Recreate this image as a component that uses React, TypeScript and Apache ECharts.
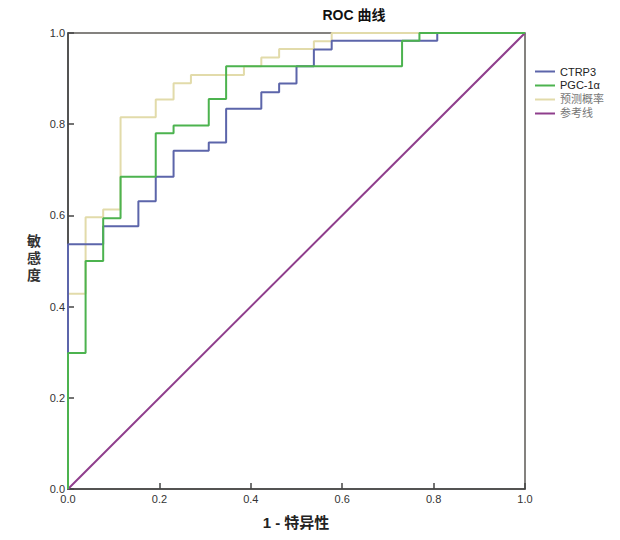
import React, { useEffect, useRef } from "react";
import * as echarts from "echarts";

// Step points of each ROC curve: x where the curve jumps, and the level after the jump
const ctrp3X = [0, 0.077, 0.154, 0.192, 0.231, 0.308, 0.346, 0.423, 0.462, 0.5, 0.538, 0.577, 0.808, 1];
const ctrp3Y = [0.537, 0.576, 0.631, 0.685, 0.742, 0.76, 0.834, 0.87, 0.889, 0.927, 0.964, 0.983, 1.0, 1.0];

const pgcX = [0, 0.0385, 0.077, 0.115, 0.192, 0.231, 0.308, 0.346, 0.731, 0.769, 1];
const pgcY = [0.298, 0.5, 0.594, 0.685, 0.78, 0.797, 0.855, 0.927, 0.983, 1.0, 1.0];

const probX = [0, 0.0385, 0.077, 0.115, 0.192, 0.231, 0.269, 0.385, 0.423, 0.462, 0.538, 0.577, 1];
const probY = [0.428, 0.596, 0.613, 0.815, 0.854, 0.89, 0.908, 0.927, 0.946, 0.965, 0.982, 1.0, 1.0];

const refX = [0, 1];
const refY = [0, 1];

const seriesNames = ["CTRP3", "PGC-1α", "预测概率", "参考线"];
const seriesColors = ["#5c65aa", "#4cb34f", "#e2dbaa", "#8f3e8c"];

const FONT = "'Liberation Sans', 'Noto Sans CJK SC', sans-serif";

function stepPoints(xs: number[], ys: number[]): number[][] {
  const pts: number[][] = [[0, 0]];
  let prev = 0;
  xs.forEach((x, i) => {
    pts.push([x, prev]);
    pts.push([x, ys[i]]);
    prev = ys[i];
  });
  return pts;
}

export default function App() {
  const ref = useRef<HTMLDivElement>(null);
  useEffect(() => {
    document.body.style.margin = "0";
    const chart = echarts.init(ref.current!, null, { renderer: "svg" });
    const lineSeries = (name: string, data: number[][], color: string, z: number) => ({
      name,
      type: "line",
      data,
      symbol: "none",
      showSymbol: false,
      z,
      lineStyle: { color, width: 2 },
      itemStyle: { color },
    });
    chart.setOption({
      animation: false,
      backgroundColor: "#ffffff",
      textStyle: { fontFamily: FONT },
      grid: {
        left: 68,
        right: 95,
        top: 33,
        bottom: 51,
        show: true,
        borderColor: "#5c5a55",
        borderWidth: 1.5,
        backgroundColor: "#ffffff",
      },
      xAxis: {
        type: "value",
        min: 0,
        max: 1,
        interval: 0.2,
        axisLine: { show: true, lineStyle: { color: "#444", width: 1.5 } },
        axisTick: { show: true, inside: true, length: 6, lineStyle: { color: "#444", width: 1.5 } },
        axisLabel: { formatter: (v: number) => v.toFixed(1), fontSize: 11, color: "#333", margin: 4, fontFamily: FONT },
        splitLine: { show: false },
      },
      yAxis: {
        type: "value",
        min: 0,
        max: 1,
        interval: 0.2,
        axisLine: { show: true, lineStyle: { color: "#444", width: 1.5 } },
        axisTick: { show: true, inside: true, length: 6, lineStyle: { color: "#444", width: 1.5 } },
        axisLabel: { formatter: (v: number) => v.toFixed(1), fontSize: 11, color: "#333", margin: 3, fontFamily: FONT },
        splitLine: { show: false },
      },
      legend: {
        orient: "vertical",
        left: 530,
        top: 61,
        itemWidth: 20,
        itemHeight: 2,
        itemGap: 3,
        icon: "rect",
        textStyle: { fontSize: 11, fontFamily: FONT },
        data: seriesNames.map((n, i) => ({
          name: n,
          textStyle: { color: i < 2 ? "#222" : "#777" },
        })),
      },
      graphic: [
        {
          type: "text",
          x: 354,
          y: 15,
          style: {
            text: "ROC 曲线",
            font: `bold 14px ${FONT}`,
            fill: "#111",
            textAlign: "center",
            textVerticalAlign: "middle",
          },
        },
        {
          type: "text",
          x: 296,
          y: 522,
          style: {
            text: "1 - 特异性",
            font: `bold 15px ${FONT}`,
            fill: "#222",
            textAlign: "center",
            textVerticalAlign: "middle",
          },
        },
        {
          type: "text",
          x: 34,
          y: 258,
          style: {
            text: "敏\n感\n度",
            font: `bold 14px ${FONT}`,
            lineHeight: 17,
            fill: "#333",
            textAlign: "center",
            textVerticalAlign: "middle",
          },
        },
      ],
      series: [
        lineSeries(seriesNames[0], stepPoints(ctrp3X, ctrp3Y), seriesColors[0], 3),
        lineSeries(seriesNames[1], stepPoints(pgcX, pgcY), seriesColors[1], 4),
        lineSeries(seriesNames[2], stepPoints(probX, probY), seriesColors[2], 2),
        lineSeries(seriesNames[3], refX.map((x, i) => [x, refY[i]]), seriesColors[3], 1),
      ],
    });
    return () => chart.dispose();
  }, []);
  return <div ref={ref} style={{ width: 620, height: 540 }} />;
}
